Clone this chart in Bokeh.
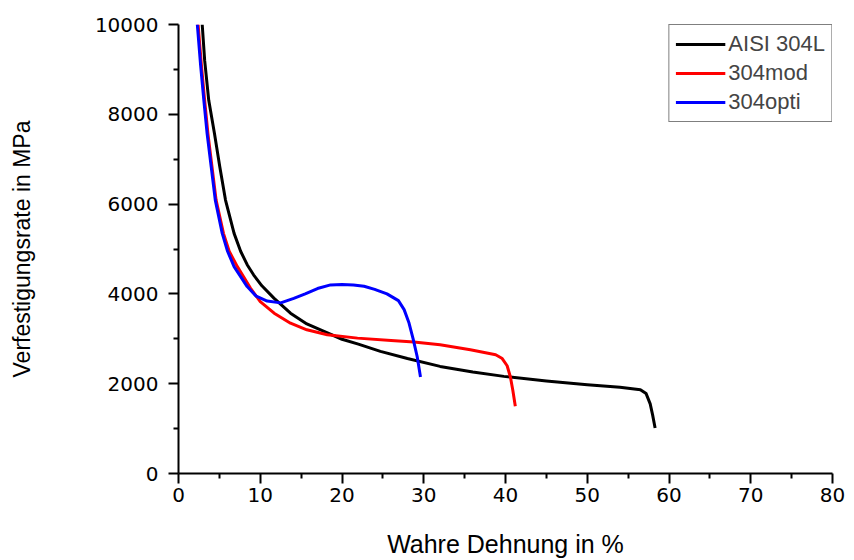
from bokeh.plotting import figure
from bokeh.models import Range1d, FixedTicker, Legend, LegendItem
from bokeh.embed import file_html
from bokeh.resources import INLINE

# --- data ---
x_ticks = [0, 10, 20, 30, 40, 50, 60, 70, 80]
y_ticks = [0, 2000, 4000, 6000, 8000, 10000]

aisi_x = [2.9, 3.2, 3.7, 4.4, 5.05, 5.75, 6.8, 7.6, 8.4, 9.2, 10.2, 11.7, 13.7, 15.7, 17.8,
          20.0, 22.0, 24.7, 28.0, 32.0, 36.0, 39.8, 45.0, 50.0, 54.0, 56.5, 57.2, 57.7, 58.0, 58.3]
aisi_y = [10000, 9200, 8311, 7570, 6830, 6089, 5348, 4950, 4650, 4420, 4180, 3900, 3570, 3330, 3163,
          2990, 2880, 2719, 2560, 2385, 2260, 2163, 2060, 1978, 1920, 1867, 1780, 1550, 1300, 1015]

mod_x = [2.4, 2.8, 3.2, 3.6, 4.1, 4.6, 5.5, 6.2, 7.2, 8.0, 8.8, 10.0, 11.7, 13.7, 15.7,
         18.2, 21.9, 26.0, 28.8, 32.0, 35.7, 38.8, 39.6, 40.2, 40.6, 40.9, 41.2]
mod_y = [10000, 9100, 8311, 7570, 6830, 6089, 5348, 4950, 4607, 4370, 4130, 3830, 3570, 3348, 3200,
         3089, 3015, 2960, 2930, 2867, 2756, 2644, 2560, 2400, 2150, 1850, 1500]

opti_x = [2.3, 2.7, 3.1, 3.5, 4.0, 4.5, 5.35, 6.0, 6.8, 7.6, 8.4, 9.5, 10.85, 12.5, 14.1,
          15.5, 17.0, 18.6, 20.0, 21.4, 22.7, 24.0, 25.5, 26.9, 27.6, 28.2, 28.7, 29.2, 29.6]
opti_y = [10000, 9100, 8311, 7570, 6830, 6089, 5348, 4950, 4607, 4385, 4163, 3950, 3840, 3800, 3900,
          4000, 4120, 4200, 4210, 4200, 4170, 4100, 4000, 3850, 3650, 3350, 3000, 2600, 2150]

series_names = ["AISI 304L", "304mod", "304opti"]
series_colors = ["#000000", "#ff0000", "#0000ff"]

p = figure(width=854, height=560, output_backend="svg", toolbar_location=None,
           x_range=Range1d(0, 80), y_range=Range1d(0, 10000),
           min_border_left=178, min_border_right=22, min_border_top=24, min_border_bottom=86)
p.outline_line_color = None
p.xgrid.grid_line_color = None
p.ygrid.grid_line_color = None
p.background_fill_color = "white"
p.border_fill_color = "white"

renderers = []
for xs, ys, c in zip([aisi_x, mod_x, opti_x], [aisi_y, mod_y, opti_y], series_colors):
    r = p.line(xs, ys, line_color=c, line_width=3, line_join="round")
    renderers.append(r)

for ax in (p.xaxis[0], p.yaxis[0]):
    ax.axis_line_width = 2
    ax.axis_line_color = "black"
    ax.major_tick_line_width = 2
    ax.minor_tick_line_width = 2
    ax.major_tick_in = 0
    ax.major_tick_out = 10
    ax.minor_tick_in = 0
    ax.minor_tick_out = 5
    ax.major_label_text_font = "DejaVu Sans"
    ax.major_label_text_font_size = "20px"
    ax.major_label_text_color = "black"
    ax.axis_label_text_font = "Liberation Sans"
    ax.axis_label_text_font_style = "normal"
    ax.axis_label_text_color = "black"

p.xaxis[0].axis_label_text_font_size = "25px"
p.yaxis[0].axis_label_text_font_size = "23px"
p.xaxis[0].ticker = FixedTicker(ticks=x_ticks, minor_ticks=[5, 15, 25, 35, 45, 55, 65, 75])
p.yaxis[0].ticker = FixedTicker(ticks=y_ticks, minor_ticks=[1000, 3000, 5000, 7000, 9000])
p.xaxis[0].major_label_standoff = 4
p.yaxis[0].major_label_standoff = 10
p.xaxis[0].axis_label = "Wahre Dehnung in %"
p.yaxis[0].axis_label = "Verfestigungsrate in MPa"
p.xaxis[0].axis_label_standoff = 25
p.yaxis[0].axis_label_standoff = 57

legend = Legend(items=[LegendItem(label=n, renderers=[r]) for n, r in zip(series_names, renderers)],
                location="top_right", margin=0, padding=6, spacing=3,
                label_text_font="Liberation Sans", label_text_font_size="22px",
                label_height=22, glyph_height=22, glyph_width=50, label_standoff=3,
                border_line_color="black", border_line_width=1.5,
                background_fill_color="white", background_fill_alpha=1)
p.add_layout(legend)

open("out.html", "w").write(file_html(p, INLINE))
